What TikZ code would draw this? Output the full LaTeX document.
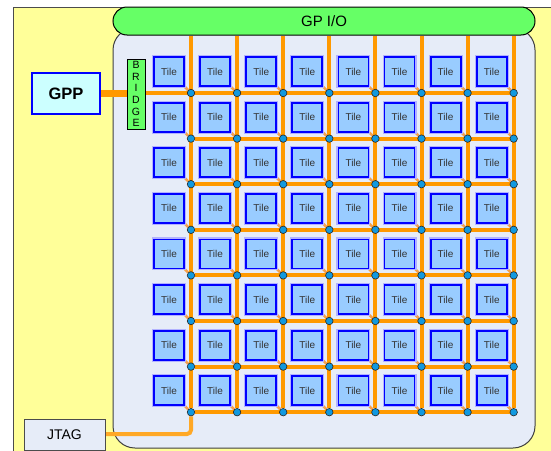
\documentclass[tikz,border=0pt]{standalone}
\usepackage{fontspec}
\setmainfont{Liberation Sans}
\pgfdeclarelayer{back}
\pgfdeclarelayer{lines}
\pgfsetlayers{back,lines,main}
\definecolor{yellowbg}{HTML}{FFFF99}
\definecolor{panelfill}{HTML}{E6ECF8}
\definecolor{gpgreen}{HTML}{66FF66}
\definecolor{gppfill}{HTML}{CCFFFF}
\definecolor{tilefill}{HTML}{99CCFF}
\definecolor{tileblue}{HTML}{0000FF}
\definecolor{busorange}{HTML}{FF9900}
\definecolor{linkorange}{HTML}{F5A04A}
\definecolor{dotblue}{HTML}{1199E0}
\begin{document}
\begin{tikzpicture}[x=1pt,y=-1pt,
  tilebox/.style={draw=tileblue, line width=1.8pt, fill=tilefill, minimum width=30pt, minimum height=29pt, inner sep=0pt,
    font=\fontsize{10}{10}\selectfont, text=black!80, preaction={draw=tileblue!30, line width=4pt}},
  junction/.style={circle, fill=dotblue, draw=black!85, line width=0.6pt, inner sep=0pt, minimum size=7.5pt},
  bus/.style={draw=busorange, line width=4pt},
  link/.style={draw=linkorange, line width=2.5pt},
]
\useasboundingbox (0,0) rectangle (551,450);
\begin{pgfonlayer}{back}
  \fill[yellowbg] (13,7) rectangle (600,500);
  \draw[black!70, line width=1pt] (13,500) -- (13,7) -- (600,7);
  \draw[fill=panelfill, draw=black!75, line width=1pt, rounded corners=22pt] (113,28) rectangle (535,448);
\end{pgfonlayer}

\node[draw=black, line width=1pt, fill=gpgreen, rounded corners=14pt, minimum width=422pt, minimum height=28pt, inner sep=0pt,
  font=\fontsize{15}{15}\selectfont] (gpio) at (324,21) {GP I/O};

\node[draw=tileblue, line width=1.5pt, fill=gppfill, minimum width=68pt, minimum height=41pt, inner sep=0pt,
  font=\fontsize{16.5}{16.5}\selectfont\bfseries] (gpp) at (66,93.5) {GPP};

\node[draw=black, line width=0.8pt, fill=gpgreen, minimum width=18pt, minimum height=70pt, inner sep=0pt, align=center,
  font=\fontsize{10.5}{11.7}\selectfont] (bridge) at (136,94) {B\\R\\I\\D\\G\\E};

\node[draw=black!70, line width=0.8pt, fill=panelfill, minimum width=81pt, minimum height=31pt, inner sep=0pt,
  font=\fontsize{14}{14}\selectfont] (jtag) at (64.5,434.5) {JTAG};

\foreach \i in {0,...,7}{
  \foreach \j in {0,...,7}{
    \node[tilebox] (t-\i-\j) at ({169+46.1*\i},{71.5+45.6*\j}) {Tile};
    \node[junction] (d-\i-\j) at ({191+46.1*\i},{93+45.6*\j}) {};
  }
}

\begin{pgfonlayer}{lines}
  \draw[busorange, line width=6.5pt] (gpp.east) -- (gpp.east -| bridge.west);
  \foreach \i in {0,...,7}{
    \draw[bus] (d-\i-0 |- gpio.south) -- (d-\i-7);
    \foreach \j in {0,...,7}{
      \draw[link] (t-\i-\j.south east) -- (d-\i-\j);
    }
  }
  \draw[bus] (bridge.east |- d-0-0) -- (d-7-0);
  \foreach \j in {1,...,7}{
    \draw[bus] (d-0-\j) -- (d-7-\j);
  }
  \draw[draw=busorange!85!white, line width=4pt, rounded corners=4pt] (jtag.east |- 0,434) -| (d-0-7);
\end{pgfonlayer}
\end{tikzpicture}
\end{document}
